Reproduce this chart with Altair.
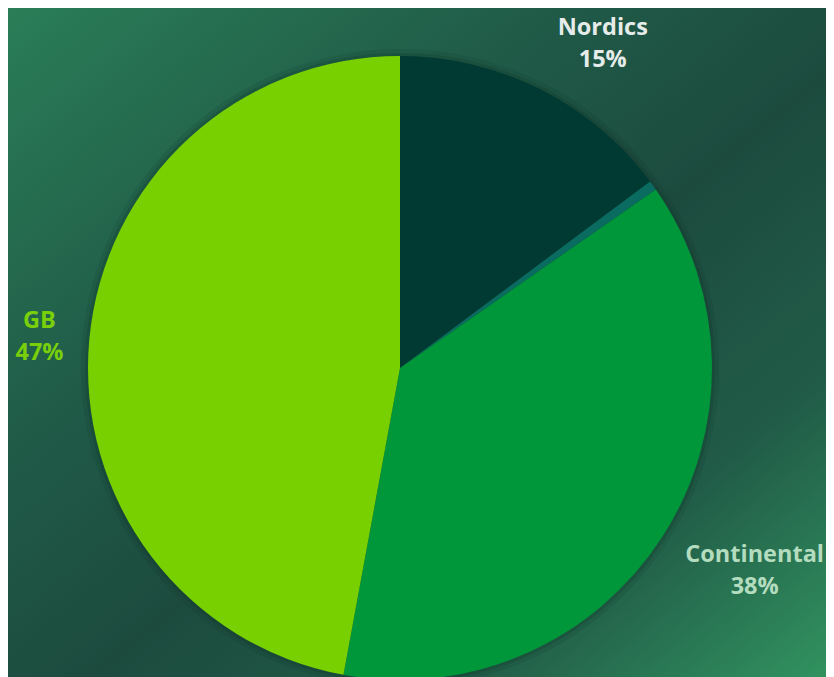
import altair as alt
import pandas as pd
import math

# ---- data ----
categories = ["Nordics", "Other", "Continental", "GB"]
shares = [14.8, 0.5, 37.6, 47.1]          # percent of total
slice_colors = ["#003a33", "#0a6b60", "#00963a", "#79d000"]
label_texts = ["Nordics", "", "Continental", "GB"]

df = pd.DataFrame({
    "cat": categories,
    "value": shares,
    "order": list(range(len(categories))),
    "name": label_texts,
})

W, H = 818, 669
CX, CY = 392, 360
R = 312
LH = 32

bg = alt.Chart(df).mark_rect(
    color=alt.LinearGradient(
        gradient="linear",
        stops=[
            alt.GradientStop(offset=0, color="#2a7d57"),
            alt.GradientStop(offset=0.33, color="#205b48"),
            alt.GradientStop(offset=0.55, color="#1c4b3e"),
            alt.GradientStop(offset=0.78, color="#215c48"),
            alt.GradientStop(offset=1, color="#31925f"),
        ],
        x1=0, y1=0, x2=1, y2=1,
    )
).encode(
    x=alt.value(0), x2=alt.value(W), y=alt.value(0), y2=alt.value(H)
).transform_filter("datum.order == 0")

base = alt.Chart(df).encode(
    theta=alt.Theta("value:Q", stack=True),
    order=alt.Order("order:Q"),
    x=alt.value(CX),
    y=alt.value(CY),
)

shadow1 = base.mark_arc(outerRadius=R + 7, color="#0b2a22", opacity=0.10)
shadow2 = base.mark_arc(outerRadius=R + 3, color="#0b2a22", opacity=0.18)

pie = base.mark_arc(outerRadius=R).encode(
    color=alt.Color("cat:N", scale=alt.Scale(domain=categories, range=slice_colors), legend=None)
)


def label_layer(cat, radius, dx, dy, color):
    return (
        alt.Chart(df)
        .transform_window(
            cum="sum(value)", sort=[alt.SortField("order")], frame=[None, 0]
        )
        .transform_joinaggregate(total="sum(value)")
        .transform_calculate(
            mid="(datum.cum - datum.value / 2) / datum.total",
            label="datum.name + '\\n' + format(datum.value, '.0f') + '%'",
        )
        .transform_filter(alt.datum.cat == cat)
        .mark_text(
            radius=radius, dx=dx, dy=dy - LH / 2, color=color, font="Open Sans",
            fontWeight="bold", fontSize=23.5, lineHeight=LH, lineBreak="\n",
            align="center", baseline="middle",
        )
        .encode(
            theta=alt.Theta("mid:Q", scale=alt.Scale(domain=[0, 1], range=[0, 2 * math.pi])),
            text="label:N",
            x=alt.value(CX),
            y=alt.value(CY),
        )
    )


labels = [
    label_layer("Nordics", 363, 40, 0, "#e6ece9"),
    label_layer("Continental", 373, 41, 1, "#b4dcbf"),
    label_layer("GB", 361, -1, 2, "#78cf0a"),
]

chart = (
    alt.layer(bg, shadow1, shadow2, pie, *labels)
    .resolve_scale(theta="independent")
    .properties(width=W, height=H, padding=0, autosize="none", background="#1f5745")
    .configure_view(stroke=None)
)

chart.save("out.html", embed_options={"renderer": "svg", "actions": False})
